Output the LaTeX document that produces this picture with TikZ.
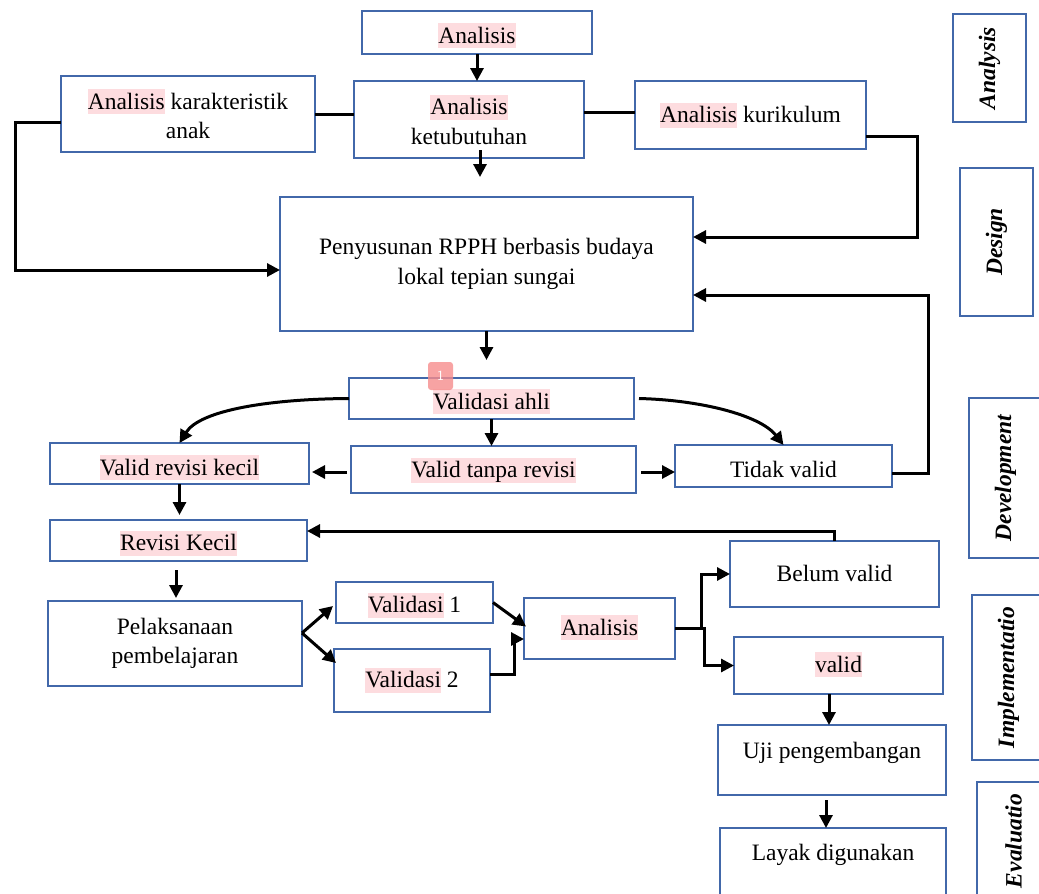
\documentclass[tikz,border=0pt]{standalone}
\usepackage{fontspec}
\setmainfont{Liberation Serif}
\usetikzlibrary{arrows.meta}
\definecolor{boxblue}{RGB}{66,104,170}
\definecolor{hlpink}{RGB}{253,220,223}
\definecolor{badgepink}{RGB}{246,140,140}
\newcommand{\hlt}[1]{{\setlength{\fboxsep}{0pt}\colorbox{hlpink}{\vrule height 20pt depth 5pt width 0pt #1}}}
\tikzset{
  box/.style={draw=boxblue, line width=2.2pt, fill=white, inner sep=0pt, outer sep=0pt,
    font=\fontsize{23.5}{29.5}\selectfont, align=center},
  one/.style={text height=16pt, text depth=5pt},
  side/.style={draw=boxblue, line width=2.2pt, fill=white, inner sep=0pt, outer sep=0pt,
    rotate=90, minimum height=73pt, font=\fontsize{23.5}{29.5}\selectfont\bfseries\itshape},
  conn/.style={line width=3pt, black},
  arr/.style={conn, -{Triangle[length=13pt,width=13pt]}},
}
\begin{document}
\begin{tikzpicture}[x=1pt,y=-1pt]
\useasboundingbox (0,0) rectangle (1039,894);
\clip (0,0) rectangle (1039,894);
% boxes
\node[box,one,minimum width=230,minimum height=43] (an1) at (477,32.5) {\raisebox{-5pt}{\hlt{Analisis}}};
\node[box,minimum width=254,minimum height=76] (kar) at (188,114) {\hlt{Analisis} karakteristik\\anak};
\node[box,minimum width=230,minimum height=77] (ket) at (469,119.5) {\hlt{Analisis}\\ketubutuhan};
\node[box,one,minimum width=231,minimum height=68] (kur) at (750.5,115) {\raisebox{-2pt}{\hlt{Analisis} kurikulum}};
\node[box,minimum width=413,minimum height=134] (pen) at (486.5,264) {Penyusunan RPPH berbasis budaya\\lokal tepian sungai};
\node[box,one,minimum width=285,minimum height=41] (va) at (491.5,398.5) {\raisebox{-5pt}{\hlt{Validasi ahli}}};
\node[box,one,minimum width=259,minimum height=41] (vrk) at (179.5,463.5) {\raisebox{-6pt}{\hlt{Valid revisi kecil}}};
\node[box,one,minimum width=285,minimum height=47] (vtr) at (493.5,469.5) {\raisebox{-2.5pt}{\hlt{Valid tanpa revisi}}};
\node[box,one,minimum width=217,minimum height=42] (tv) at (783.5,466) {\raisebox{-6pt}{Tidak valid}};
\node[box,one,minimum width=257,minimum height=41] (rk) at (178.5,540.5) {\raisebox{-4.5pt}{\hlt{Revisi Kecil}}};
\node[box,minimum width=254,minimum height=85] (pel) at (175,643.5) {Pelaksanaan\\pembelajaran};
\node[box,one,minimum width=157,minimum height=41] (v1) at (414.5,602.5) {\raisebox{-4.5pt}{\hlt{Validasi} 1}};
\node[box,one,minimum width=156,minimum height=63] (v2) at (412,680.5) {\raisebox{-1.5pt}{\hlt{Validasi} 2}};
\node[box,one,minimum width=151,minimum height=61] (an2) at (599.5,628.5) {\raisebox{-1pt}{\hlt{Analisis}}};
\node[box,one,minimum width=209,minimum height=66] (bv) at (834.5,574) {\raisebox{-2pt}{Belum valid}};
\node[box,one,minimum width=209,minimum height=57] (vl) at (838.5,665.5) {\raisebox{-1pt}{\hlt{valid}}};
\node[box,one,minimum width=228,minimum height=70] (uji) at (832,760) {\raisebox{7.5pt}{Uji pengembangan}};
\node[box,one,minimum width=226,minimum height=72] (lay) at (833,864) {\raisebox{9.5pt}{Layak digunakan}};
% side labels
\node[side,minimum width=108] (sA) at (989.5,68) {Analysis};
\node[side,minimum width=148] (sD) at (996.5,242) {Design};
\node[side,minimum width=160] (sDev) at (1005.5,478) {Development};
\node[side,minimum width=165] (sI) at (1008.5,677.5) {Implementatio};
\node[side,minimum width=118] (sE) at (1013.5,841) {Evaluatio};
% comment badge
\node[fill=badgepink, fill opacity=0.8, text opacity=1, rounded corners=3pt, minimum width=25pt, minimum height=28pt, inner sep=0pt, text=white, font=\fontsize{14}{16}\selectfont\sffamily] (badge) at (440.5,376) {1};
% connectors
\draw[arr] (an1.south) -- (an1.south |- ket.north);
\draw[conn] (kar.east) -- (kar.east -| ket.west);
\draw[conn] ([yshift=3]kur.west -| ket.east) -- ([yshift=3]kur.west);
\draw[arr] ([xshift=11,yshift=8]ket.south) -- ([xshift=-6.5,yshift=20]pen.north);
\draw[arr] ([yshift=-8]kar.west) -- ++(-46,0) |- ([yshift=-6]pen.west);
\draw[arr] ([yshift=-21]kur.east) -- ++(51,0) |- ([yshift=27]pen.east);
\draw[arr] (pen.south) -- ([yshift=18]pen.south |- va.north);
\draw[arr] (va.west) .. controls (270,399) and (200,410) .. (vrk.north);
\draw[arr] ([xshift=5]va.east) .. controls (700,400) and (760,415) .. (tv.north);
\draw[arr] (va.south) -- (va.south |- vtr.north);
\draw[arr] ([xshift=-4,yshift=-2.5]vtr.west) -- ([xshift=3,yshift=-2.5]vrk.east |- vtr.west);
\draw[arr] ([xshift=5,yshift=-2.5]vtr.east) -- ([yshift=-2.5]tv.west |- vtr.east);
\draw[arr] ([yshift=-7]tv.east) -- ++(36,0) |- ([yshift=-31]pen.east);
\draw[arr] (vrk.south) -- ([yshift=5]vrk.south |- rk.north);
\draw[arr] (bv.north) |- ([yshift=9.5]rk.east);
\draw[arr] ([xshift=-2.5,yshift=-9]rk.south) -- ([xshift=1,yshift=3]pel.north);
\draw[arr] ([yshift=10.5]pel.east) -- ([xshift=-3,yshift=-3.5]v1.west);
\draw[arr] ([yshift=10.5]pel.east) -- ([xshift=2,yshift=17.5]v2.west);
\draw[arr] (v1.east) -- ([xshift=2,yshift=2]an2.west);
\draw[arr] ([yshift=6]v2.east) -- ++(24,0) |- ([yshift=-10.5]an2.west);
\draw[arr] (an2.east) -- ++(26,0) |- (bv.west);
\draw[arr] (an2.east) -- ++(29,0) |- (vl.west);
\draw[arr] ([xshift=-9.5]vl.south) -- ([xshift=-3]uji.north);
\draw[arr] ([xshift=-6,yshift=-5]uji.south) -- ([xshift=-7]lay.north);
\end{tikzpicture}
\end{document}
